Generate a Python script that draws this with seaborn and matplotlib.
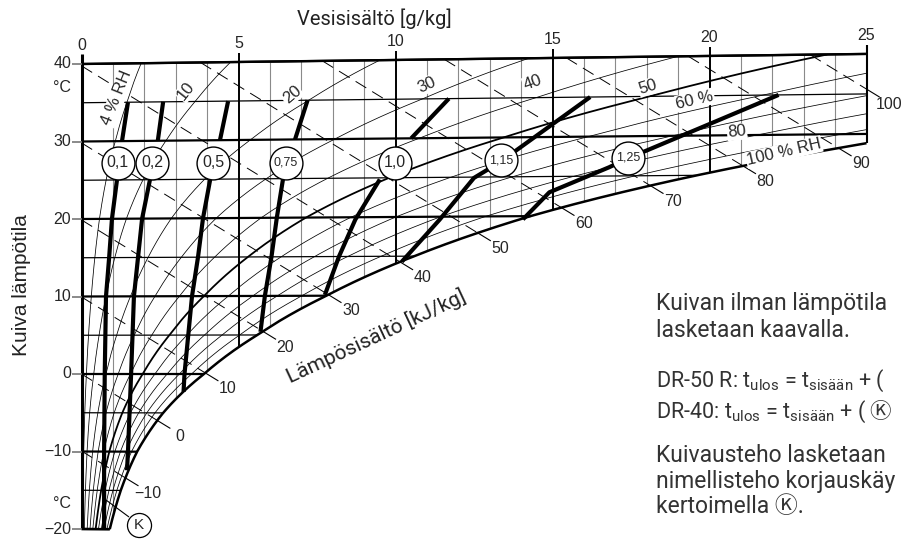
import numpy as np
import matplotlib
matplotlib.use("Agg")
import matplotlib.pyplot as plt
import seaborn as sns
from matplotlib.patches import Polygon

# ---------------- data ----------------
sat_T = [-20, -15, -10, -5, 0, 5, 10, 15, 20, 25, 30, 35, 40]          # °C
sat_x = [0.9, 1.25, 1.77, 2.6, 3.9, 5.6, 7.8, 10.6, 14.3, 19.6, 26.9, 36.2, 47.5]  # g/kg at 100 % RH
rh_levels = [4, 10, 20, 30, 40, 50, 60, 70, 80, 90]
h_levels = [-10, 0, 10, 20, 30, 40, 50, 60, 70, 80, 90, 100]
x_ticks = [0, 5, 10, 15, 20, 25]
t_ticks = [40, 30, 20, 10, 0, -10, -20]
t_tick_labels = ["40", "30", "20", "10", "0", "\u221210", "\u221220"]

k_names = ["0,1", "0,2", "0,5", "0,75", "1,0", "1,15", "1,25"]
k_low_x = [[0.72, 0.72, 0.74, 0.78, 0.88, 0.97, 1.13],
           [1.45, 1.48, 1.58, 1.67, 1.80, 1.93, 2.18],
           [3.25, 3.28, 3.52, 3.71, 3.87, 4.10],
           [5.70, 5.84, 6.05, 6.22, 6.42],
           [7.75, 8.20, 8.72, 9.50],
           [10.2, 11.4, 12.5, 13.3],
           [14.06, 14.9, 16.8, 17.4]]
k_low_T = [[-20, -10, 0, 10, 15, 20, 25],
           [-12.4, -10, 0, 10, 15, 20, 25],
           [-2.3, 0, 10, 15, 20, 25],
           [5.4, 10, 15, 20, 25],
           [10.1, 15, 19.7, 24.8],
           [14.3, 19.6, 24.9, 26.8],
           [19.6, 23.0, 26.1, 27.2]]
k_up_x = [[1.29, 1.48], [2.43, 2.60], [4.41, 4.67], [6.80, 7.20],
          [10.5, 11.7], [13.3, 16.2], [17.4, 22.2]]
k_up_T = [[30, 35], [30, 35], [30, 35], [30, 35], [30, 35], [26.8, 35], [27.2, 35]]
k_circle_x = [1.15, 2.25, 4.19, 6.51, 9.98, 13.36, 17.4]
k_circle_T = [27.2, 27.2, 27.1, 27.0, 26.9, 27.1, 27.3]

# ---------------- helpers ----------------
TILT = 0.0013
def Y(x, T):
    return np.asarray(T, float) * (1 + TILT * np.asarray(x, float))

lsx = np.log(sat_x)
def xsat(T):
    return np.exp(np.interp(T, sat_T, lsx))
def tsat(x):
    return np.interp(np.log(x), lsx, sat_T)

def px(pxx, pyy):  # layout helper: pixel position -> axes data
    return (pxx - 81.5) / 31.4, (374 - pyy) / 7.75

# ---------------- figure ----------------
sns.set_theme(style="white")
plt.rcParams["font.family"] = ["Liberation Sans", "DejaVu Sans"]
plt.rcParams["lines.scale_dashes"] = False
plt.rcParams["lines.solid_capstyle"] = "butt"

fig = plt.figure(figsize=(9.03, 5.43), dpi=100)
ax = fig.add_axes([0, 0, 1, 1])
ax.set_xlim(-81.5 / 31.4, (903 - 81.5) / 31.4)
ax.set_ylim((374 - 543) / 7.75, 374 / 7.75)
ax.axis("off")

# chart region (clip path)
T25 = float(tsat(25))
Ts = np.linspace(-20, T25, 400)
Xs = xsat(Ts)
verts = [(0, Y(0, -20)), (0, Y(0, 40)), (25, Y(25, 40)), (25, Y(25, T25))]
verts += list(zip(Xs[::-1], Y(Xs[::-1], Ts[::-1])))
region = Polygon(verts, closed=True, facecolor="none", edgecolor="none")
ax.add_patch(region)

def clip(lines):
    for l in lines:
        l.set_clip_path(region)

# vertical grid (water content)
for xv in range(1, 25):
    tb = -20 if xv <= sat_x[0] else float(tsat(xv))
    major = xv % 5 == 0
    clip(ax.plot([xv, xv], [Y(xv, tb), Y(xv, 40)],
                 color="black" if major else "#8a8a8a",
                 lw=1.4 if major else 0.8, zorder=2))

# isotherms
for T in range(-20, 45, 5):
    xe = min(float(xsat(T)), 25)
    major = T % 10 == 0
    ax.plot([0, xe], [Y(0, T), Y(xe, T)], color="black",
            lw=1.6 if major else 0.9, zorder=2.2)

# RH curves
Tf = np.linspace(-20, 40, 700)
for r in rh_levels:
    xr = r / 100 * xsat(Tf)
    m = xr <= 26
    clip(ax.plot(xr[m], Y(xr[m], Tf[m]), color="black",
                 lw=1.3 if r == 50 else 0.55, zorder=2.5))

# enthalpy lines (dashed) with ticks and labels
def Th(h, x):
    return (h - 2.501 * x) / (1.006 + 0.00186 * x)

xg = np.linspace(0, 25, 5001)
for h in h_levels:
    tl = Th(h, xg)
    inside = (tl <= 40) & (tl >= tsat(np.maximum(xg, 0.01)) - 1e-9)
    inside &= ~((xg < sat_x[0]) & (tl < -20))
    idx = np.where(inside)[0]
    if len(idx) == 0:
        continue
    x0, x1 = xg[idx[0]], xg[idx[-1]]
    seg = np.linspace(x0, x1, 50)
    l, = ax.plot(seg, Y(seg, Th(h, seg)), color="black", lw=0.7,
                 dashes=(9, 5), zorder=2.6)
    l.set_clip_path(region)
    ext = np.linspace(x1, x1 + 0.42, 5)
    ax.plot(ext, Y(ext, Th(h, ext)), color="black", lw=0.8, zorder=2.6)
    xl = x1 + 0.72
    lab = f"{h}" if h >= 0 else f"\u2212{abs(h)}"
    ax.text(xl, Y(xl, Th(h, xl)) - 0.25, lab, ha="center", va="center",
            fontsize=11.5, zorder=5)

# boundary
ax.plot(Xs, Y(Xs, Ts), color="black", lw=1.8, zorder=3)
ax.plot([0, 0], [Y(0, -20), Y(0, 40) + 1.3], color="black", lw=2.2, zorder=3)
ax.plot([0, 25], [Y(0, 40), Y(25, 40)], color="black", lw=1.7, zorder=3)
ax.plot([25, 25], [Y(25, T25), Y(25, 40) + 1.1], color="black", lw=1.5, zorder=3)
ax.plot([0, sat_x[0]], [Y(0, -20), Y(sat_x[0], -20)], color="black", lw=1.8, zorder=3)

# ticks and tick labels
for xv in x_ticks[1:-1]:
    ax.plot([xv, xv], [Y(xv, 40), Y(xv, 40) + 1.2], color="black", lw=1.4, zorder=3)
for xv in x_ticks:
    ax.text(xv, Y(xv, 40) + 2.4, str(xv), ha="center", va="center", fontsize=11.5)
for T, lab in zip(t_ticks, t_tick_labels):
    ax.plot([-0.3, 0], [T, T], color="#777777", lw=1.2, zorder=3)
    ax.text(-0.33, T, lab, ha="right", va="center", fontsize=11.5)
ax.text(*px(62, 88), "°C", ha="center", va="center", fontsize=11.5)
ax.text(*px(62, 503), "°C", ha="center", va="center", fontsize=11.5)

# axis titles
ax.text(*px(374, 19), "Vesisisältö [g/kg]", ha="center", va="center",
        fontsize=14.5, family=["Roboto", "DejaVu Sans"], color="#222222")
ax.text(*px(22, 285), "Kuiva lämpötila", ha="center", va="center", rotation=90,
        fontsize=15, color="#222222")
ax.text(*px(376, 336), "Lämpösisältö [kJ/kg]", ha="center", va="center",
        rotation=25, rotation_mode="anchor", fontsize=15,
        family=["Roboto", "DejaVu Sans"], color="#222222")

# RH labels
rh_txt = [("4 % RH", 117, 98, 68), ("10", 186, 91, 52), ("20", 292, 95, 40),
          ("30", 427, 85, 25), ("40", 533, 83, 20), ("50", 648, 87, 17),
          ("60 %", 695, 100, 13), ("80", 737, 132, 6), ("100 % RH", 784, 152, 13)]
for s, a, b, rot in rh_txt:
    ax.text(*px(a, b), s, ha="center", va="center", rotation=rot,
            rotation_mode="anchor", fontsize=12, zorder=6,
            bbox=dict(boxstyle="square,pad=0.05", fc="white", ec="none"))

# K-factor curves
for i in range(len(k_names)):
    for xs_, ts_ in ((k_low_x[i], k_low_T[i]), (k_up_x[i], k_up_T[i])):
        sns.lineplot(x=np.array(xs_), y=Y(xs_, ts_), sort=False, estimator=None,
                     color="black", lw=3.0, ax=ax, zorder=7)
sns.scatterplot(x=np.array(k_circle_x), y=Y(k_circle_x, k_circle_T), s=560,
                color="white", edgecolor="black", linewidth=1.0, ax=ax, zorder=8)
for name, a, b in zip(k_names, k_circle_x, k_circle_T):
    ax.text(a, Y(a, b), name, ha="center", va="center", zorder=9,
            fontsize=11.5 if len(name) == 3 else 9)

# K marker at bottom
ax.plot(*zip(px(106, 500), px(129, 517)), color="black", lw=0.8, zorder=8)
kx, ky = px(139, 525)
ax.scatter([kx], [ky], s=300, facecolor="white", edgecolor="black", lw=0.9, zorder=8)
ax.text(kx, ky, "K", ha="center", va="center", fontsize=11, zorder=9)

# explanatory text block
fam = ["Roboto", "Noto Sans CJK JP", "DejaVu Sans"]
tc = "#333333"
fs = 16.5
for s, yb in (("Kuivan ilman lämpötila", 310), ("lasketaan kaavalla.", 337),
              ("Kuivausteho lasketaan", 462),
              ("nimellisteho korjauskäy", 488), ("kertoimella \u24c0.", 513)):
    ax.text(*px(656, yb), s, ha="left", va="baseline", fontsize=fs, family=fam, color=tc)
fs2 = 15.5
ax.text(*px(656, 387), r"DR-50 R: t$_\mathregular{ulos}$ = t$_\mathregular{sisään}$ + (",
        ha="left", va="baseline", fontsize=fs2, family="Roboto", color=tc)
t2 = ax.text(*px(656, 418), r"DR-40: t$_\mathregular{ulos}$ = t$_\mathregular{sisään}$ + (",
             ha="left", va="baseline", fontsize=fs2, family="Roboto", color=tc)
fig.canvas.draw()
bb = t2.get_window_extent(renderer=fig.canvas.get_renderer())
xk = ax.transData.inverted().transform((bb.x1 + 3, 0))[0]
ax.text(xk, px(0, 418)[1], "\u24c0", ha="left", va="baseline", fontsize=fs2,
        family=fam, color=tc)

fig.savefig("out.png", dpi=100, facecolor="white")
